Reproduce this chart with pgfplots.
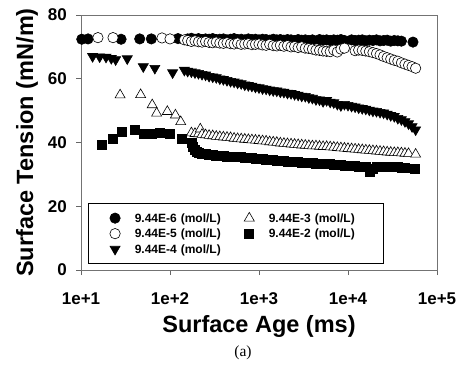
\documentclass[border=0pt]{standalone}
\usepackage{pgfplots}
\pgfplotsset{compat=1.18}
\usepackage{pgfplotstable}
\usepackage{fontspec}
\setmainfont{Liberation Sans}
\newfontfamily\seriffont{Liberation Serif}
\newcommand{\legfont}{\fontsize{12}{14}\selectfont\bfseries}

% Surface age (ms) vs surface tension (mN/m)
\pgfplotstableread{
t s
10.2 72.4
12.0 72.5
28.2 72.4
45.7 72.5
61.7 72.5
123 72.6
158 72.5
174 72.7
191 72.4
209 72.6
229 72.3
251 72.5
275 72.4
302 72.6
331 72.3
363 72.4
398 72.5
437 72.2
479 72.4
525 72.6
575 72.3
631 72.4
692 72.2
759 72.5
832 72.3
912 72.4
1000 72.2
1096 72.4
1202 72.3
1318 72.1
1445 72.4
1585 72.2
1738 72.3
1905 72.1
2089 72.3
2291 72.2
2512 72.0
2754 72.3
3020 72.1
3311 72.2
3631 72.0
3981 72.2
4786 72.3
5248 72.1
5754 72.2
6310 72.0
6918 72.2
7586 72.1
8318 72.3
9120 72.0
10965 72.2
12023 72.0
13183 72.1
14454 72.2
15849 71.9
17378 72.1
19055 72.0
20893 72.2
22909 71.9
25119 72.0
27542 72.1
30200 71.8
33113 72.0
36308 71.9
39811 71.8
53703 71.5
}\dataA

\pgfplotstableread{
t s
15.5 72.9
22.9 72.9
81.3 72.8
100 72.5
145 72.2
158 72.0
174 71.7
191 71.9
209 71.6
229 71.5
251 71.7
275 71.4
302 71.3
331 71.5
363 71.2
398 71.1
437 71.3
479 71.0
525 70.9
575 71.2
631 70.8
692 70.9
759 71.0
832 70.7
912 70.8
1000 70.9
1096 70.6
1202 70.5
1318 70.8
1445 70.4
1585 70.3
1738 70.5
1905 70.2
2089 70.4
2291 70.0
2512 70.1
2754 69.8
3020 70.0
3311 69.6
3631 69.5
3981 69.3
4365 69.0
4786 68.9
5248 68.7
5754 68.6
6310 68.5
6918 69.0
7586 68.4
8318 69.3
9120 69.6
12023 68.8
13183 69.0
14454 68.9
15849 68.7
17378 68.5
19055 68.2
20893 67.9
22909 67.5
25119 67.0
27542 66.6
30200 66.2
33113 65.8
36308 65.5
39811 65.0
43652 64.6
47863 64.2
52481 63.8
57544 63.3
}\dataB

\pgfplotstableread{
t s
13.5 67.0
16.2 66.9
19.1 66.8
21.9 66.4
24.5 66.0
33.1 66.3
50.1 63.8
67.6 63.3
107 61.9
145 62.7
158 62.4
174 62.2
191 61.9
209 61.7
229 61.4
251 61.2
275 60.8
302 60.6
331 60.4
363 60.0
398 59.8
437 59.5
479 59.2
525 59.0
575 58.7
631 58.5
692 58.1
759 57.9
832 57.7
912 57.4
1000 57.2
1096 56.9
1202 56.8
1318 56.5
1445 56.3
1585 56.2
1738 55.9
1905 55.8
2089 55.5
2291 55.4
2512 55.1
2754 54.9
3020 54.6
3311 54.5
3631 54.1
3981 53.9
4365 53.5
4786 53.4
5248 52.9
5754 53.2
6310 52.7
6918 52.5
7586 52.0
8318 51.6
9120 52.0
10000 51.7
10965 51.4
12023 51.2
13183 50.9
14454 50.7
15849 50.5
17378 50.2
19055 49.9
20893 49.8
22909 49.5
25119 49.3
27542 48.9
30200 48.5
33113 48.2
36308 47.6
39811 47.2
43652 46.6
47863 45.9
52481 45.0
57544 44.0
}\dataC

\pgfplotstableread{
t s
27.5 54.9
46.8 55.0
63.1 51.8
70.8 49.2
93.3 49.7
115 48.6
132 46.5
174 43.0
191 42.8
209 42.7
219 44.2
229 42.5
251 42.4
275 42.2
302 42.1
331 41.9
363 41.8
398 41.7
437 41.6
479 41.5
525 41.3
575 41.2
631 41.1
692 41.0
759 40.9
832 40.8
912 40.7
1000 40.6
1096 40.5
1202 40.4
1318 40.2
1445 40.1
1585 40.0
1738 39.8
1905 39.7
2089 39.6
2291 39.5
2512 39.4
2754 39.3
3020 39.2
3311 39.1
3631 39.0
3981 38.9
4365 38.9
4786 38.8
5248 38.7
5754 38.7
6310 38.6
6918 38.5
7586 38.4
8318 38.3
9120 38.2
10000 38.1
10965 38.0
12023 37.9
13183 37.8
14454 37.7
15849 37.6
17378 37.5
19055 37.4
20893 37.3
22909 37.2
25119 37.1
27542 37.0
30200 36.9
33113 36.8
36308 36.8
39811 36.7
43652 36.6
47863 36.5
57544 36.3
}\dataD

\pgfplotstableread{
t s
17.0 39.2
22.9 41.1
28.8 43.4
40.7 44.0
51.3 42.6
63.1 42.6
77.6 43.2
100 42.6
135 41.3
174 40.0
182 38.8
191 37.8
200 37.0
209 36.7
229 36.4
251 36.3
275 36.1
302 36.0
331 35.9
363 35.8
398 35.7
437 35.6
479 35.6
525 35.5
575 35.4
631 35.4
692 35.3
759 35.2
832 35.1
912 35.0
1000 34.9
1096 34.8
1202 34.7
1318 34.6
1445 34.5
1585 34.4
1738 34.3
1905 34.2
2089 34.1
2291 34.0
2512 33.9
2754 33.8
3020 33.7
3311 33.7
3631 33.6
3981 33.5
4365 33.4
4786 33.4
5248 33.3
5754 33.2
6310 33.2
6918 33.1
7586 33.0
8318 32.9
9120 32.8
10000 32.8
10965 32.7
12023 32.6
13183 32.5
14454 32.4
15849 32.3
17783 30.8
19055 31.9
20893 32.4
22909 32.5
25119 32.5
27542 32.4
30200 32.4
33113 32.3
36308 32.3
39811 32.2
43652 32.1
56234 31.9
}\dataE

\begin{document}
\begin{tikzpicture}
\begin{axis}[
  at={(0pt,0pt)}, anchor=south west,
  scale only axis, width=356pt, height=255pt,
  xmode=log, xmin=10, xmax=100000, ymin=0, ymax=80,
  clip=false,
  xtick={10,100,1000,10000,100000},
  xticklabels={1e+1,1e+2,1e+3,1e+4,1e+5},
  ytick={0,20,40,60,80}, yticklabels={0,20,40,60,80},
  xminorticks=false, yminorticks=false,
  tick align=outside, xtick pos=bottom, ytick pos=left,
  major tick length=5pt,
  tick style={black!60, line width=0.8pt},
  axis line style={black!55, line width=0.8pt},
  tick label style={font=\fontsize{17}{17}\selectfont\bfseries},
  xticklabel style={anchor=base, yshift=-29pt},
  yticklabel style={anchor=east, inner xsep=0pt, xshift=-9pt},
  xlabel={Surface Age (ms)},
  ylabel={Surface Tension (mN/m)},
  label style={font=\fontsize{23.5}{26}\selectfont\bfseries},
  xlabel style={at={(axis description cs:0.5,-0.247)}, anchor=base},
  ylabel style={at={(axis description cs:-0.1348,0.5)}, anchor=base, rotate=0},
  legend columns=3, transpose legend,
  legend image code/.code={\draw[mark repeat=2,mark phase=2,#1] plot coordinates {(-5pt,0pt) (0pt,0pt) (5pt,0pt)};},
  legend style={at={(axis description cs:0.0197,0.0235)}, anchor=south west,
    draw=black, line width=0.7pt, inner xsep=21.5pt, inner ysep=7pt,
    font=\legfont,
    nodes={inner sep=0pt, text width=93pt, text height=11.5pt, text depth=3.5pt, anchor=west},
    row sep=0.5pt,
    /tikz/every odd column/.append style={column sep=14.5pt},
    /tikz/every even column/.append style={column sep=16.5pt}},
]
\addplot[only marks, mark=*, mark size=5.2pt, mark options={draw=black, fill=black, line width=0.6pt}] table[x=t,y=s] {\dataA};
\addlegendentry{9.44E-6 (mol/L)}
\addplot[only marks, mark=*, mark size=5.2pt, mark options={draw=black, fill=white, line width=0.6pt}] table[x=t,y=s] {\dataB};
\addlegendentry{9.44E-5 (mol/L)}
\addplot[only marks, mark=triangle*, mark size=5.8pt, mark options={rotate=180, draw=black, fill=black, line width=0.6pt}] table[x=t,y=s] {\dataC};
\addlegendentry{9.44E-4 (mol/L)}
\addplot[only marks, mark=triangle*, mark size=5.8pt, mark options={draw=black, fill=white, line width=0.6pt}] table[x=t,y=s] {\dataD};
\addlegendentry{9.44E-3 (mol/L)}
\addplot[only marks, mark=square*, mark size=4.5pt, mark options={draw=black, fill=black, line width=0.6pt}] table[x=t,y=s] {\dataE};
\addlegendentry{9.44E-2 (mol/L)}
\end{axis}
\node[font=\seriffont\fontsize{15.5}{17}\selectfont] at (162pt,-83pt) {(a)};
\pgfresetboundingbox
\path[use as bounding box] (-81pt,-99pt) rectangle (379pt,270pt);
\end{tikzpicture}
\end{document}
